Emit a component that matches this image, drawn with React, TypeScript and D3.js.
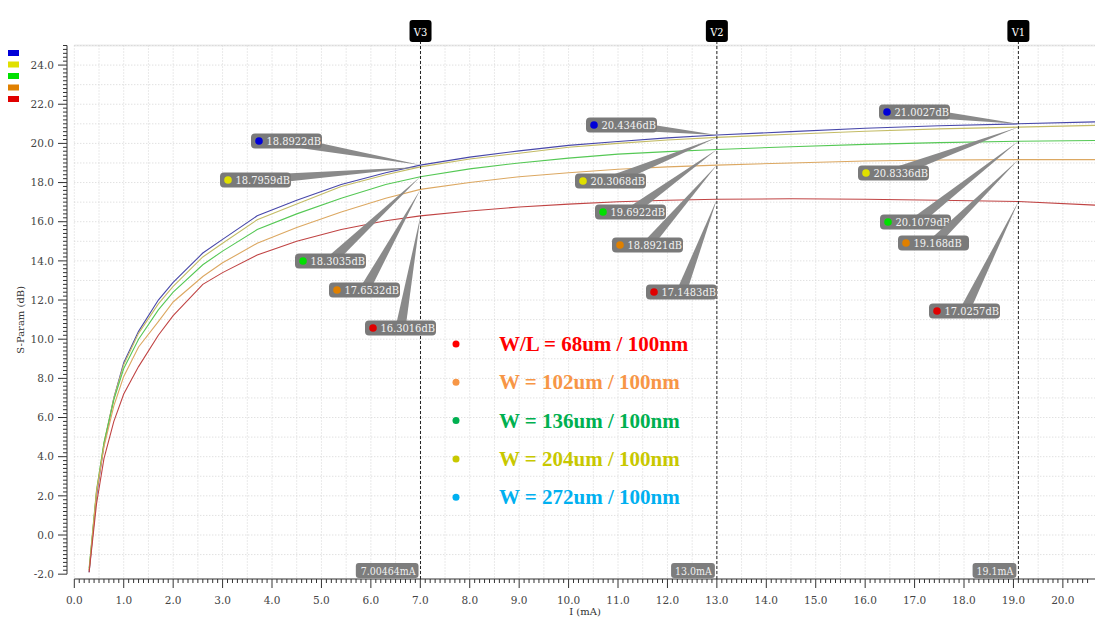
import React from 'react';
import * as d3 from 'd3';

// drain current sweep (mA)
const I_MA = [0.3, 0.45, 0.6, 0.8, 1.0, 1.3, 1.7, 2.0, 2.6, 3.0, 3.7, 4.5, 5.4, 6.3, 7.0, 8.0, 9.0, 10.0, 11.0, 12.0, 13.0, 14.5, 16.0, 17.5, 19.1, 20.65];

// S-Param (dB) per device width
const S_272 = [-1.9, 2.0, 4.6, 7.0, 8.8, 10.4, 12.0, 12.9, 14.4, 15.1, 16.3, 17.1, 17.9, 18.5, 18.89, 19.3, 19.62, 19.9, 20.1, 20.28, 20.43, 20.6, 20.77, 20.9, 21.0, 21.1];
const S_204 = [-1.8, 2.2, 4.7, 7.0, 8.7, 10.3, 11.8, 12.7, 14.2, 14.9, 16.1, 16.9, 17.8, 18.4, 18.8, 19.2, 19.5, 19.8, 20.0, 20.17, 20.31, 20.47, 20.62, 20.74, 20.83, 20.92];
const S_136 = [-1.7, 2.3, 4.7, 6.9, 8.5, 10.0, 11.5, 12.4, 13.8, 14.5, 15.6, 16.4, 17.2, 17.9, 18.3, 18.7, 19.0, 19.25, 19.45, 19.58, 19.69, 19.83, 19.95, 20.04, 20.11, 20.15];
const S_102 = [-1.8, 2.2, 4.5, 6.6, 8.1, 9.6, 10.9, 11.9, 13.2, 13.9, 14.9, 15.7, 16.5, 17.2, 17.65, 18.0, 18.3, 18.5, 18.68, 18.8, 18.89, 19.0, 19.1, 19.15, 19.17, 19.17];
const S_68 = [-1.9, 1.6, 3.9, 5.8, 7.2, 8.6, 10.2, 11.2, 12.8, 13.4, 14.3, 15.0, 15.6, 16.05, 16.3, 16.55, 16.75, 16.9, 17.02, 17.1, 17.15, 17.17, 17.15, 17.1, 17.03, 16.85];

const LINE_COLORS = ['#4848aa', '#c4bc66', '#55c855', '#dca862', '#c04444'];
const DOT_COLORS = ['#0000d8', '#e0e000', '#00e000', '#e08000', '#e00000'];

// markers
const MARKER_NAMES = ['V3', 'V2', 'V1'];
const MARKER_I = [7.00464, 13.0, 19.1];
const MARKER_I_LABELS = ['7.00464mA', '13.0mA', '19.1mA'];
const V3_VALUES = [18.8922, 18.7959, 18.3035, 17.6532, 16.3016];
const V2_VALUES = [20.4346, 20.3068, 19.6922, 18.8921, 17.1483];
const V1_VALUES = [21.0027, 20.8336, 20.1079, 19.168, 17.0257];
const MARKER_VALUES = [V3_VALUES, V2_VALUES, V1_VALUES];

// label box placement (dot x, centre y) for each marker readout
const LABEL_POS = [
  [[259, 141], [228, 180], [303, 261], [337, 290], [373, 328]],
  [[594, 125], [583, 181], [603, 212], [620, 245], [654, 292]],
  [[887, 112], [866, 173], [888, 222], [906, 243], [937, 311]],
];

const LEGEND_TEXT = ['W/L = 68um / 100nm', 'W = 102um / 100nm', 'W = 136um / 100nm', 'W = 204um / 100nm', 'W = 272um / 100nm'];
const LEGEND_COLORS = ['#ff0000', '#f79646', '#00b050', '#c8c800', '#00b0f0'];

const W = 1101;
const H = 618;
const X0 = 74.3, X1 = 1095;
const Y_TOP = 45.5, Y_BOT = 535 + 2 * 19.58;
const AXIS_Y = 579;
const YAXIS_X = 67;
const FONT = 'DejaVu Serif';

const App = () => {
  const x = d3.scaleLinear().domain([0, 20.65]).range([X0, X1]);
  const y = d3.scaleLinear().domain([-2, 25]).range([Y_BOT, Y_TOP]);

  const series = [S_272, S_204, S_136, S_102, S_68];
  const line = d3
    .line<number>()
    .x((d, i) => x(I_MA[i]))
    .y((d) => y(d));

  const xMinor = d3.range(0, 206).map((d) => d / 10);
  const yMinor = d3.range(-10, 126).map((d) => d / 5);
  const vGrid = d3.range(0, 41).map((d) => d / 2);
  const hGrid = d3.range(-1, 26);

  return (
    <svg width={W} height={H} style={{ position: 'absolute', left: 0, top: 0, background: '#fff' }} fontFamily={FONT}>
      <defs>
        <clipPath id="plot">
          <rect x={X0} y={Y_TOP} width={X1 - X0} height={AXIS_Y - Y_TOP} />
        </clipPath>
      </defs>

      {/* grid */}
      <line x1={X0} x2={X1} y1={Y_TOP} y2={Y_TOP} stroke="#ececec" strokeWidth={2} />
      {vGrid.map((d) => (
        <line key={'vg' + d} x1={x(d)} x2={x(d)} y1={Y_TOP} y2={AXIS_Y} stroke="#d4d4d4" strokeDasharray="1,2" />
      ))}
      {hGrid.map((d) => (
        <line key={'hg' + d} x1={X0} x2={X1} y1={y(d)} y2={y(d)} stroke="#d4d4d4" strokeDasharray="1,2" />
      ))}

      {/* y axis */}
      <line x1={YAXIS_X} x2={YAXIS_X} y1={Y_TOP} y2={Y_BOT} stroke="#333" />
      {yMinor.map((d) => (
        <line key={'ym' + d} x1={YAXIS_X - (d % 2 === 0 ? 9 : 4)} x2={YAXIS_X} y1={y(d)} y2={y(d)} stroke="#333" />
      ))}
      {d3.range(-2, 25, 2).map((d) => (
        <text key={'yl' + d} x={54} y={y(d)} dy="0.35em" textAnchor="end" fontSize={10.5} fill="#444">
          {d.toFixed(1)}
        </text>
      ))}
      <text transform={`translate(24,${(Y_TOP + Y_BOT) / 2 + 10}) rotate(-90)`} textAnchor="middle" fontSize={10} fill="#333">
        S-Param (dB)
      </text>

      {/* x axis */}
      <line x1={X0} x2={X1} y1={AXIS_Y} y2={AXIS_Y} stroke="#333" />
      {xMinor.map((d) => (
        <line key={'xm' + d} x1={x(d)} x2={x(d)} y1={AXIS_Y} y2={AXIS_Y + (Math.abs(d - Math.round(d)) < 1e-6 ? 9 : 4)} stroke="#333" />
      ))}
      {d3.range(0, 21).map((d) => (
        <text key={'xl' + d} x={x(d)} y={604} textAnchor="middle" fontSize={10.5} fill="#444">
          {d.toFixed(1)}
        </text>
      ))}
      <text x={585} y={615} textAnchor="middle" fontSize={10} fill="#333">
        I (mA)
      </text>

      {/* curves */}
      <g clipPath="url(#plot)">
        {series.map((s, k) => (
          <path key={'s' + k} d={line(s) || ''} fill="none" stroke={LINE_COLORS[k]} strokeWidth={1.1} />
        ))}
      </g>

      {/* top-left colour keys */}
      {DOT_COLORS.map((c, k) => (
        <rect key={'key' + k} x={8} y={50 + k * 11.5} width={11} height={6} fill={c} />
      ))}

      {/* marker lines */}
      {MARKER_I.map((m, j) => (
        <g key={'m' + j}>
          <line x1={x(m)} x2={x(m)} y1={41} y2={AXIS_Y} stroke="#222" strokeDasharray="3,2" />
          <rect x={x(m) - 11} y={20} width={22} height={22} rx={3} fill="#000" />
          <text x={x(m)} y={35.5} textAnchor="middle" fontSize={11} fontStretch="condensed" fill="#fff">
            {MARKER_NAMES[j]}
          </text>
          <rect x={x(m) - 2 - (MARKER_I_LABELS[j].length * 6.3 + 6)} y={563} width={MARKER_I_LABELS[j].length * 6.3 + 6} height={15} rx={3} fill="#7d7d7d" />
          <text x={x(m) - 5} y={574.5} textAnchor="end" fontSize={10.5} fontStretch="condensed" fill="#f0f0f0">
            {MARKER_I_LABELS[j]}
          </text>
        </g>
      ))}

      {/* readouts */}
      {MARKER_VALUES.map((vals, j) =>
        vals.map((v, k) => {
          const px = x(MARKER_I[j]);
          const py = y(v);
          const [dx, cy] = LABEL_POS[j][k];
          const bx = dx - 8;
          const bw = 71;
          const cx = bx + bw / 2;
          const len = Math.hypot(px - cx, py - cy);
          const nx = -(py - cy) / len;
          const ny = (px - cx) / len;
          const hw = 5;
          const pts = `${px},${py} ${cx + nx * hw},${cy + ny * hw} ${cx - nx * hw},${cy - ny * hw}`;
          return (
            <g key={'r' + j + k}>
              <polygon points={pts} fill="#8a8a8a" />
              <rect x={bx} y={cy - 7.5} width={bw} height={15} rx={4} fill="#7a7a7a" />
              <circle cx={dx} cy={cy} r={3.8} fill={DOT_COLORS[k]} />
              <text x={dx + 7.5} y={cy} dy="0.36em" fontSize={11} fontStretch="condensed" fill="#f2f2f2">
                {v + 'dB'}
              </text>
            </g>
          );
        })
      )}

      {/* legend */}
      {LEGEND_TEXT.map((t, k) => (
        <g key={'lg' + k}>
          <circle cx={456} cy={344 + k * 38.3} r={3.5} fill={LEGEND_COLORS[k]} />
          <text x={499} y={351 + k * 38.3} fontFamily="Liberation Serif" fontWeight="bold" fontSize={21} fill={LEGEND_COLORS[k]}>
            {t}
          </text>
        </g>
      ))}
    </svg>
  );
};

export default App;
